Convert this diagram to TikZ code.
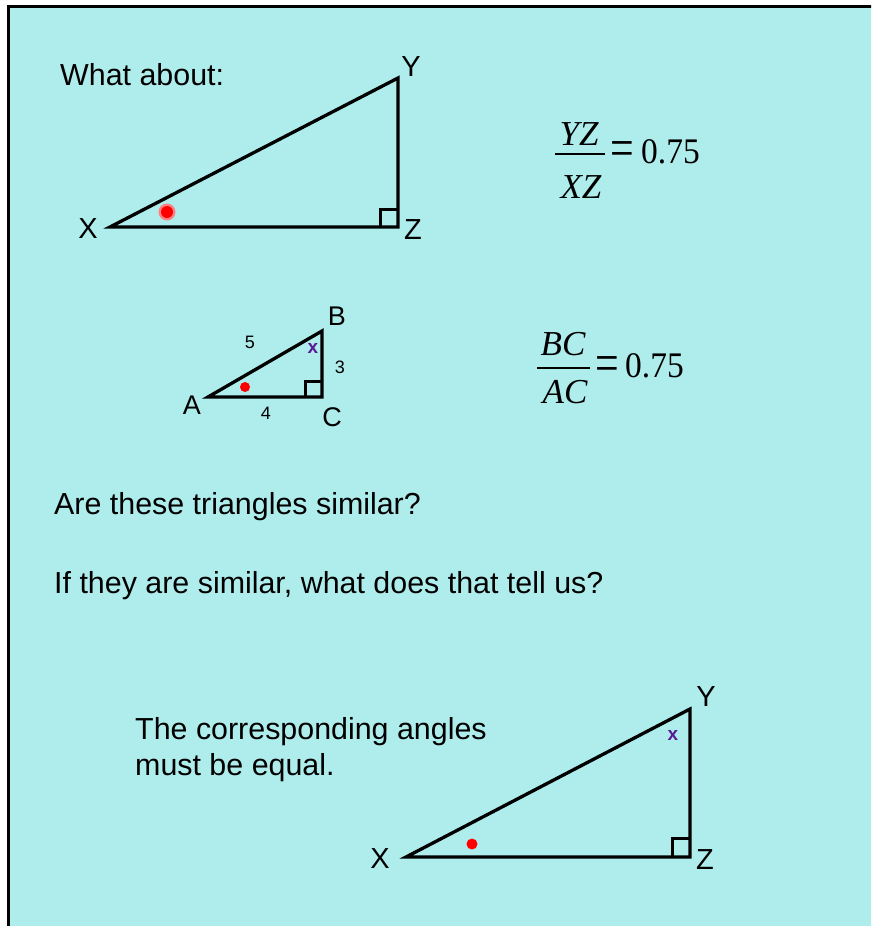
\documentclass[tikz,border=0pt]{standalone}
\usepackage{fontspec}
\setmainfont{Liberation Sans}
\newfontfamily\tnr{Liberation Serif}
\definecolor{bgc}{HTML}{AFEDED}
\definecolor{xpurple}{HTML}{5A1A96}
\begin{document}
\begin{tikzpicture}[x=1pt,y=-1pt,
  edge/.style={line width=3.3pt, line join=miter},
  sq/.style={line width=3pt},
  lbl/.style={font=\fontsize{29}{34}\selectfont, inner sep=0pt},
  slbl/.style={font=\fontsize{27}{32}\selectfont, inner sep=0pt},
  num/.style={font=\fontsize{18}{22}\selectfont, inner sep=0pt},
  txt/.style={font=\fontsize{30.4}{36}\selectfont, inner sep=0pt, anchor=base west},
  xmark/.style={font=\bfseries\fontsize{19}{22}\selectfont, text=xpurple, inner sep=0pt},
  fracpart/.style={font=\tnr\itshape\fontsize{35}{40}\selectfont, inner sep=0pt, anchor=base},
  eqsign/.style={font=\tnr\fontsize{42}{50}\selectfont, inner sep=0pt},
  val/.style={font=\tnr\fontsize{36}{40}\selectfont, inner sep=0pt, anchor=base west},
  fracline/.style={line width=1.6pt},
  dot/.style={fill=red}
]
\useasboundingbox (0,0) rectangle (871,926);
\fill[white] (0,0) rectangle (871,926);
\begin{scope}
\clip (0,0) rectangle (871,926);
\filldraw[fill=bgc, line width=3pt] (8.5,6.5) rectangle (890,945);
\end{scope}

% top text
\node[txt] (q0) at (60,85) {What about:};

% top triangle
\coordinate (X1) at (110,227);
\coordinate (Y1) at (398,78);
\coordinate (Z1) at (398,227);
\draw[edge] (X1) -- (Y1) -- (Z1) -- cycle;
\draw[sq] (Z1) ++(-18,0) -- ++(0,-18) -- ++(18,0);
\node[lbl] (lX1) at (88,229) {X};
\node[lbl] (lY1) at (411,67) {Y};
\node[lbl] (lZ1) at (413,230) {Z};
\fill[red!50] (167,212) circle (8.5);
\fill[red] (167,212) circle (6);

% fraction YZ/XZ
\node[fracpart] (n1) at (579,145) {YZ};
\node[fracpart] (d1) at (581,198) {XZ};
\coordinate (f1a) at (555,154);
\coordinate (f1b) at (605,154);
\draw[fracline] (f1a) -- (f1b);
\node[eqsign] (e1) at (622,154) {\scalebox{1}[1.3]{=}};
\node[val] (v1) at (641,163) {\scalebox{0.93}[1]{0.75}};

% small triangle
\coordinate (A) at (208,397);
\coordinate (B) at (322,331);
\coordinate (C) at (322,397);
\draw[edge] (A) -- (B) -- (C) -- cycle;
\draw[sq] (C) ++(-17,0) -- ++(0,-16) -- ++(17,0);
\node[slbl] (lA) at (192,405) {A};
\node[slbl] (lB) at (337,316) {B};
\node[slbl] (lC) at (332,417) {C};
\node[num] (n5) at (250,342) {5};
\node[num] (n3) at (340,367) {3};
\node[num] (n4) at (266,413) {4};
\node[xmark] (xm1) at (313,348) {x};
\fill[dot] (245,387) circle (5);

% fraction BC/AC
\node[fracpart] (n2) at (563,355) {BC};
\node[fracpart] (d2) at (565,403) {AC};
\coordinate (f2a) at (537,368);
\coordinate (f2b) at (590,368);
\draw[fracline] (f2a) -- (f2b);
\node[eqsign] (e2) at (607,369) {\scalebox{1}[1.3]{=}};
\node[val] (v2) at (625,377) {\scalebox{0.93}[1]{0.75}};

% questions
\node[txt] (q1) at (54,514) {Are these triangles similar?};
\node[txt] (q2) at (54,593) {If they are similar, what does that tell us?};

% answer
\node[txt] (a1) at (135,739) {The corresponding angles};
\node[txt] (a2) at (135,775) {must be equal.};

% bottom triangle
\coordinate (X2) at (406,857);
\coordinate (Y2) at (690,709);
\coordinate (Z2) at (690,857);
\draw[edge] (X2) -- (Y2) -- (Z2) -- cycle;
\draw[sq] (Z2) ++(-18,0) -- ++(0,-19) -- ++(18,0);
\node[lbl] (lX2) at (380,859) {X};
\node[lbl] (lY2) at (706,697) {Y};
\node[lbl] (lZ2) at (705,860) {Z};
\node[xmark] (xm2) at (673,735) {x};
\fill[dot] (472,844) circle (5.5);
\end{tikzpicture}
\end{document}
